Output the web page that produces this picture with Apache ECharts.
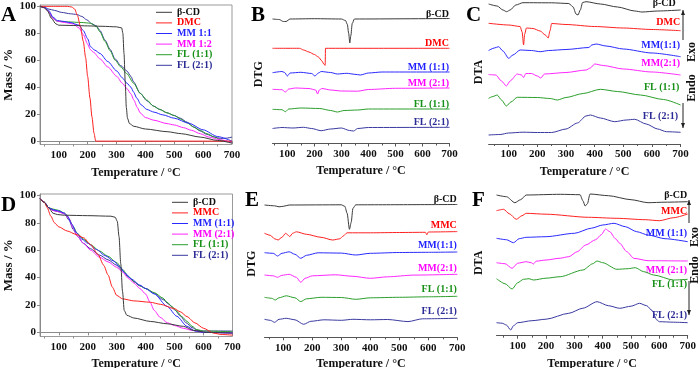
<!DOCTYPE html>
<html>
<head>
<meta charset="utf-8">
<script src="https://cdn.jsdelivr.net/npm/echarts@6/dist/echarts.min.js"></script>
<style>
html, body { margin: 0; padding: 0; background: #fff; }
#chart { width: 700px; height: 368px; }
</style>
</head>
<body>
<div id="chart"></div>
<script>
// tick values shared by every temperature axis
var tempMajor = [100, 200, 300, 400, 500, 600, 700];
var tempMinor = [50, 150, 250, 350, 450, 550, 650];
var massTicks = [0, 20, 40, 60, 80, 100];

// ---- A: TGA, mass % ----
var namesA = ['β-CD', 'DMC', 'MM 1:1', 'MM 1:2', 'FL (1:1)', 'FL (2:1)'];
var a_bcd = [[35,100],[50,99],[60,97],[75,91],[90,87],[100,86],[150,85.8],[200,85.5],[250,85.2],[300,84.8],[318,84],[322,80],[326,65],[330,45],[334,25],[338,17],[345,13],[360,11],[400,9],[475,7],[525,5.5],[590,3],[650,0.5],[700,-1.5]];
var a_dmc = [[35,100],[130,100],[145,99.5],[155,98],[165,93],[175,85],[185,74],[193,62],[200,48],[208,32],[215,18],[222,6],[228,0],[700,0]];
var a_mm11 = [[35,100],[50,99.5],[65,97],[80,92],[95,89.5],[110,89],[140,88],[170,86],[185,82],[200,76],[210,70],[225,67.5],[243,65],[270,59],[301,52],[320,47],[336,43],[350,40],[359,36.5],[370,32],[385,27],[405,23.5],[430,21.5],[460,19.5],[500,17],[550,13.3],[600,8.4],[650,3.4],[700,0]];
var a_mm12 = [[35,100],[50,99],[65,96],[80,91],[95,89],[120,88],[150,87],[170,84],[185,79],[200,72],[209,68],[220,66],[243,61],[270,55],[301,48],[320,43],[336,39],[350,35],[360,30.5],[372,25],[382,21],[400,17.5],[430,15.5],[475,13],[500,12],[532,10],[560,8],[590,5.5],[620,3],[660,1],[700,-1]];
var a_fl11 = [[35,100],[50,99],[65,96],[80,91],[95,89],[130,88.5],[180,88],[210,87.5],[230,85],[243,81],[260,74],[278,67],[295,60],[315,55],[336,50],[359,43],[382,35.5],[405,30.5],[428,26],[450,23.5],[475,21],[500,19],[521,16.5],[545,13.5],[567,10.5],[590,8],[613,5.5],[640,3],[665,0.5],[700,-1]];
var a_fl21 = [[35,100],[50,99.5],[65,98],[85,97],[110,95.5],[140,94.5],[162,94],[180,92.5],[197,90],[215,87],[230,85.5],[243,82],[260,75],[278,68],[295,61],[315,56],[336,52],[350,48],[359,44],[382,35.5],[405,30],[428,26],[450,23.5],[475,21],[500,19],[521,17],[545,14],[567,10.5],[590,7.5],[613,5],[640,3],[660,2],[680,2.2],[700,3]];

// ---- B: DTG (offset curves, arbitrary units) ----
var namesB = ['β-CD', 'DMC', 'MM (1:1)', 'MM (2:1)', 'FL (1:1)', 'FL (2:1)'];
var b_bcd = [[45,124.5],[70,124],[85,122],[95,122],[110,124.5],[200,124.8],[300,124.5],[315,123],[322,119],[327,110],[331,100.5],[335,108],[340,120],[348,124.5],[700,125]];
var b_dmc = [[45,95.2],[145,95.2],[160,93.5],[180,91.5],[200,89],[215,86.5],[228,82.5],[236,79],[240,78.2],[241,95.2],[700,95.2]];
var b_mm11 = [[45,70.8],[80,72],[90,71],[100,67.5],[110,70.5],[150,71.2],[190,70],[202,67.5],[215,70.5],[225,72],[260,71],[285,69.5],[320,70.2],[350,69.2],[370,68.5],[400,70.5],[450,71.5],[700,71.5]];
var b_mm21 = [[45,54.2],[80,53.8],[93,51.5],[105,54.5],[130,55.5],[180,55],[205,53.5],[212,49.5],[218,53.5],[228,55],[260,53.5],[300,52.5],[360,52.3],[400,54],[500,55.2],[700,55.5]];
var b_fl11 = [[45,34.2],[80,33.8],[93,31.8],[105,34.5],[150,35.5],[220,35],[260,33],[285,31.5],[310,33],[360,33.5],[400,34.5],[700,34.5]];
var b_fl21 = [[45,15],[80,16],[120,15.5],[160,16.2],[190,15],[225,12.8],[260,14.5],[300,15.5],[330,13],[345,12.5],[360,15],[400,16],[700,16.2]];
var labelLevelB = [128.8, 100.5, 75.8, 60.5, 39.5, 20.8];
var labelTempB = [700, 700, 700, 700, 700, 700];

// ---- C: DTA ----
var namesC = ['β-CD', 'DMC', 'MM(1:1)', 'MM(2:1)', 'FL (1:1)', 'FL (2:1)'];
var c_bcd = [[30,140],[60,138],[80,134],[93,132.3],[105,134],[125,139],[150,141.3],[250,141.2],[310,140.5],[325,137],[335,130],[342,129],[350,134],[358,141.5],[370,142.3],[420,140],[480,137],[540,133],[565,132],[620,133],[700,134]];
var c_dmc = [[30,120.7],[100,119],[140,117.5],[147,112],[152,99],[156,110],[162,116],[185,115.5],[210,113],[228,109],[238,106],[244,113],[250,120.5],[300,119.5],[400,117.5],[500,116],[600,114.5],[700,113.3]];
var c_mm11 = [[30,93.5],[50,96],[65,97.3],[80,93],[100,85.7],[115,89],[140,94],[180,93.5],[210,92.3],[240,93.5],[300,94.5],[380,96.5],[390,99],[405,100],[440,98],[500,95],[600,91],[700,87.3]];
var c_mm21 = [[30,69.5],[55,69],[75,63],[92,58],[105,63],[130,70],[145,69],[152,66.5],[160,70.5],[180,70.5],[200,68],[212,66],[225,70],[300,71.5],[370,74],[385,76],[400,80],[430,78.5],[500,75],[600,72],[700,69]];
var c_fl11 = [[30,45.7],[45,47.5],[60,49],[75,44],[92,38],[108,42],[130,46.7],[200,46.5],[245,45.5],[270,44],[300,46.5],[360,50.5],[420,54.7],[480,52.5],[560,49],[640,44.5],[700,39]];
var c_fl21 = [[30,9],[70,9.5],[100,11],[150,11.8],[200,11.5],[250,11.5],[300,15],[340,21],[370,28],[385,29],[420,26],[470,22.3],[510,24],[540,24.7],[580,20],[620,15],[650,12.3],[700,11.7]];
var labelLevelC = [140.5, 121.3, 99, 81, 56.3, 27.3];
var labelTempC = [685, 700, 700, 700, 697, 693];

// ---- D: TGA, mass % ----
var namesD = ['β-CD', 'MMC', 'MM (1:1)', 'MM (2:1)', 'FL (1:1)', 'FL (2:1)'];
var d_bcd = [[35,97.5],[50,95],[65,91],[80,87],[95,86],[120,85.5],[200,85.2],[280,84.8],[295,84],[302,81],[308,70],[314,50],[320,30],[326,16],[335,12.5],[359,10.5],[416,8],[474,6.3],[531,4.4],[565,1.5],[611,0],[700,-0.5]];
var d_mmc = [[35,97.5],[50,95],[60,91],[72,85],[85,80],[100,77],[129,74],[160,71.5],[186,69],[210,64],[235,57],[255,49],[270,42],[285,33],[300,27],[320,24.5],[359,23],[416,22],[451,20.5],[497,17.5],[520,15],[543,11.5],[570,7],[600,3],[634,-0.5],[660,-1.5],[700,-2]];
var d_mm11 = [[35,97.5],[50,95],[65,91],[80,89.5],[100,88.5],[120,87],[130,85],[145,79],[160,73],[180,68],[200,65],[230,60.5],[260,56],[290,52],[310,48],[330,43],[350,39],[380,34.5],[400,32],[430,28],[474,19],[508,11.7],[543,4.4],[570,1],[600,0],[700,-0.5]];
var d_mm21 = [[35,97.5],[50,95],[65,91],[80,89],[100,88],[120,86.5],[135,83],[150,76],[165,70],[185,65],[210,60],[240,55],[270,51.5],[300,47.5],[320,44],[340,39.5],[360,36],[380,32],[400,28],[415,22],[430,16],[450,11],[475,7],[500,5],[530,3],[560,1.5],[600,0],[700,-0.5]];
var d_fl11 = [[35,97.5],[50,95],[65,91],[80,90],[100,89],[120,87],[135,83],[150,77],[165,72],[185,68],[210,64],[240,59.5],[270,55.5],[300,51],[320,46],[340,41],[360,37],[380,34],[400,32],[430,29],[460,25],[474,22],[490,19],[508,15.3],[525,11.5],[543,8],[560,4.5],[577,2],[600,1],[700,0.5]];
var d_fl21 = [[35,97.5],[50,95],[65,91],[80,89],[100,88],[120,86.5],[135,82],[150,75],[165,70],[185,65],[210,61],[240,56.5],[270,53],[300,49],[320,45],[340,40.5],[360,37],[380,34],[400,32],[430,28.5],[460,24],[480,20.5],[500,16.5],[520,12],[540,7],[560,3.5],[580,1.5],[600,1],[700,1]];

// ---- E: DTG ----
var namesE = ['β-CD', 'MMC', 'MM(1:1)', 'MM(2:1)', 'FL (1:1)', 'FL (2:1)'];
var e_bcd = [[35,132.3],[70,131.5],[85,130.5],[100,131],[120,132.3],[300,132.5],[312,131],[320,124],[328,108],[334,115],[340,129],[350,132.5],[700,132.8]];
var e_mmc = [[35,104],[55,102],[70,98.5],[82,97.3],[95,100],[108,104],[115,102.5],[122,100.7],[132,104],[145,105.5],[180,103],[230,100],[270,97.3],[295,98.5],[305,101],[320,104.5],[400,104.5],[500,104.8],[590,105],[595,102.5],[600,105.3],[700,105.7]];
var e_mm11 = [[35,84.6],[65,84],[80,81.3],[95,84],[120,85.5],[140,83],[160,79],[180,82],[220,84.5],[300,84.2],[350,82.3],[400,84],[500,84.8],[600,85],[700,85.3]];
var e_mm21 = [[35,62.3],[65,61.5],[80,60],[95,62],[120,63],[145,60],[160,55],[175,59],[200,61.5],[280,62.5],[340,61],[400,59],[460,60.5],[550,62.2],[700,63]];
var e_fl11 = [[35,40],[60,39],[72,37.3],[85,39.5],[110,41.5],[140,39.5],[160,35.7],[180,38.5],[230,40],[300,39.8],[350,38],[400,39.5],[500,40],[600,40.5],[700,41]];
var e_fl21 = [[35,18],[55,17],[70,15],[85,18],[110,19],[140,17.5],[170,13],[195,16],[240,17.5],[300,17],[340,18],[400,17.5],[460,17.8],[530,15.7],[580,18.5],[700,19]];
var labelLevelE = [138, 112.3, 92.3, 69, 48, 26.3];
var labelTempE = [700, 700, 700, 700, 700, 700];

// ---- F: DTA ----
var namesF = ['β-CD', 'MMC', 'MM (1:1)', 'MM (2:1)', 'FL (1:1)', 'FL (2:1)'];
var f_bcd = [[25,140.7],[60,139],[90,133],[110,136],[130,140.7],[250,141.4],[320,141],[330,135],[338,129.7],[346,132],[355,141.7],[420,140],[500,136],[560,133],[620,133.5],[700,134]];
var f_mmc = [[25,125],[50,126.4],[70,122],[95,116.4],[115,120],[130,122.4],[200,121.5],[350,118.4],[450,117.4],[550,116],[600,115],[650,118],[700,121.7]];
var f_mm11 = [[25,97.4],[60,96],[85,93],[105,97],[130,98.4],[200,99],[300,102.4],[360,107.5],[400,110.7],[440,112.4],[480,109],[520,104],[560,100.7],[620,97],[700,94]];
var f_mm21 = [[25,73],[55,72],[80,67.4],[100,72.5],[130,74],[148,73],[155,71.7],[165,74.5],[200,75.7],[250,77.5],[280,79],[310,84],[340,90.7],[375,96],[395,101],[410,106.7],[425,104],[445,97],[460,92.4],[485,84],[510,77.4],[560,75],[700,74.7]];
var f_fl11 = [[25,57],[55,52],[80,46.7],[100,53],[120,56.4],[140,57],[155,55.7],[200,57.5],[250,59],[330,65.7],[365,72],[380,74.7],[400,73],[450,66.4],[490,67],[515,68],[545,64],[580,60.7],[650,55.7],[700,56.4]];
var f_fl21 = [[25,13],[45,12.5],[60,10.7],[75,5.7],[85,10],[100,13],[150,15],[200,16.5],[280,22.4],[330,27.5],[380,34],[420,30],[460,27.4],[500,29.5],[530,32.4],[555,30],[575,25],[590,16],[600,14],[650,13.5],[700,13]];
var labelLevelF = [140.7, 124, 102.4, 65.7, 51.7, 20.7];
var labelTempF = [700, 700, 700, 700, 700, 700];

// ---------------- layout & style ----------------
var FONT = '"Liberation Serif", "Times New Roman", serif';
var lineColors = ['#3a3a3a', '#ff2020', '#2a2aff', '#ff26ff', '#2b9e2b', '#3a3aa0'];
var textColors = ['#111111', '#ff0000', '#1f1fff', '#ff00ff', '#179017', '#2b2b95'];

var panels = [
  { grid: {left: 40, top: 5, width: 192, height: 139.5}, xmin: 35, ymin: -2.5, ymax: 101, tga: true, yname: 'Mass / %', nameGapX: 22, nameGapY: 24,
    names: namesA, curves: [a_bcd, a_dmc, a_mm11, a_mm12, a_fl11, a_fl21] },
  { grid: {left: 272.5, top: 5, width: 177, height: 138.5}, xmin: 45, ymin: 0, ymax: 138.5, yname: 'DTG', nameGapX: 21, nameGapY: 7.5,
    names: namesB, curves: [b_bcd, b_dmc, b_mm11, b_mm21, b_fl11, b_fl21], levels: labelLevelB, ltemps: labelTempB },
  { grid: {left: 488.6, top: 0, width: 192, height: 144}, xmin: 30, ymin: 0, ymax: 144, yname: 'DTA', nameGapX: 22, nameGapY: 3.5,
    names: namesC, curves: [c_bcd, c_dmc, c_mm11, c_mm21, c_fl11, c_fl21], levels: labelLevelC, ltemps: labelTempC },
  { grid: {left: 40, top: 194, width: 192.5, height: 142.5}, xmin: 35, ymin: -3, ymax: 101, tga: true, yname: 'Mass / %', nameGapX: 21, nameGapY: 24,
    names: namesD, curves: [d_bcd, d_mmc, d_mm11, d_mm21, d_fl11, d_fl21] },
  { grid: {left: 264.5, top: 190, width: 192.8, height: 147.3}, xmin: 35, ymin: 0, ymax: 147.3, yname: 'DTG', nameGapX: 20.5, nameGapY: 6.5,
    names: namesE, curves: [e_bcd, e_mmc, e_mm11, e_mm21, e_fl11, e_fl21], levels: labelLevelE, ltemps: labelTempE },
  { grid: {left: 496.5, top: 190, width: 191.2, height: 145.7}, xmin: 25, ymin: 0, ymax: 145.7, yname: 'DTA', nameGapX: 22, nameGapY: 11.5,
    names: namesF, curves: [f_bcd, f_mmc, f_mm11, f_mm21, f_fl11, f_fl21], levels: labelLevelF, ltemps: labelTempF }
];

var grids = [], xAxes = [], yAxes = [], series = [];
panels.forEach(function (p, gi) {
  var axisCol = p.tga ? '#8a8a8a' : '#555';
  var g = Object.assign({ outerBoundsMode: 'none', containLabel: false }, p.grid);
  if (p.tga) { g.show = true; g.borderColor = '#9a9a9a'; g.borderWidth = 1; }
  grids.push(g);

  xAxes.push({
    type: 'value', gridIndex: gi, min: p.xmin, max: 700, position: 'bottom',
    axisLine: { lineStyle: { color: axisCol, width: 1 } },
    axisTick: { customValues: tempMajor, length: 3, lineStyle: { color: axisCol } },
    axisLabel: { customValues: tempMajor, margin: 5, color: '#111', fontFamily: FONT, fontWeight: 'bold', fontSize: 11 },
    splitLine: { show: false },
    name: 'Temperature / °C', nameLocation: 'middle', nameGap: p.nameGapX,
    nameTextStyle: { color: '#111', fontFamily: FONT, fontWeight: 'bold', fontSize: 12 }
  });
  xAxes.push({
    type: 'value', gridIndex: gi, min: p.xmin, max: 700, position: 'bottom',
    axisLine: { show: false },
    axisTick: { customValues: tempMinor, length: 2, lineStyle: { color: axisCol } },
    axisLabel: { show: false }, splitLine: { show: false }
  });

  var nameStyle = { color: '#111', fontFamily: FONT, fontWeight: 'bold', fontSize: p.tga ? 13 : 12 };
  if (p.tga) {
    yAxes.push({
      type: 'value', gridIndex: gi, min: p.ymin, max: p.ymax,
      axisLine: { show: true, lineStyle: { color: axisCol } },
      axisTick: { show: true, customValues: massTicks, length: 3, lineStyle: { color: axisCol } },
      axisLabel: { customValues: massTicks, margin: 4, color: '#111', fontFamily: FONT, fontWeight: 'bold', fontSize: 11 },
      splitLine: { show: false },
      name: p.yname, nameLocation: 'middle', nameGap: p.nameGapY, nameTextStyle: nameStyle
    });
  } else {
    yAxes.push({
      type: 'value', gridIndex: gi, min: p.ymin, max: p.ymax,
      axisLine: { show: false }, axisTick: { show: false }, axisLabel: { show: false }, splitLine: { show: false },
      name: p.yname, nameLocation: 'middle', nameGap: p.nameGapY, nameTextStyle: nameStyle
    });
  }

  p.curves.forEach(function (data, k) {
    var s = {
      type: 'line', name: p.names[k], xAxisIndex: gi * 2, yAxisIndex: gi, data: data,
      symbol: 'none', smooth: 0.25, smoothMonotone: 'x',
      lineStyle: { width: 1, color: lineColors[k] }, itemStyle: { color: lineColors[k] },
      z: 10 - k
    };
    if (p.levels) {
      s.markPoint = {
        silent: true, symbol: 'circle', symbolSize: 1, itemStyle: { color: 'rgba(0,0,0,0)' },
        data: [{ coord: [p.ltemps[k], p.levels[k]] }],
        label: { show: true, position: 'left', distance: 0, formatter: p.names[k],
                 color: textColors[k], fontFamily: FONT, fontWeight: 'bold', fontSize: 10 }
      };
    }
    series.push(s);
  });
});

function legendFor(names, left, top) {
  return {
    orient: 'vertical', left: left, top: top, padding: 0,
    icon: 'rect', itemWidth: 16, itemHeight: 1, itemGap: 0.6, selectedMode: false,
    data: names.map(function (n, i) {
      return { name: n, textStyle: { color: textColors[i], fontFamily: FONT, fontWeight: 'bold', fontSize: 10, lineHeight: 10 } };
    }),
    textStyle: { fontFamily: FONT, fontWeight: 'bold', fontSize: 10, lineHeight: 10 }
  };
}

function letter(t, left, top) {
  return { text: t, left: left, top: top, padding: 0,
           textStyle: { fontFamily: FONT, fontWeight: 'bold', fontSize: 21, color: '#000' } };
}

// Exo / Endo direction marker beside a DTA panel
function exoEndo(x, tx, y0, y1, y2, y3, yExo, yEndo) {
  var st = { stroke: '#222', lineWidth: 1 };
  var ts = { fill: '#111', font: 'bold 12px ' + FONT, textAlign: 'center', textVerticalAlign: 'middle' };
  return [
    { type: 'line', shape: { x1: x, y1: y0, x2: x, y2: y1 }, style: st },
    { type: 'polygon', shape: { points: [[x - 2, y0 + 5], [x + 2, y0 + 5], [x, y0]] }, style: { fill: '#222' } },
    { type: 'line', shape: { x1: x, y1: y2, x2: x, y2: y3 }, style: st },
    { type: 'polygon', shape: { points: [[x - 2, y3 - 5], [x + 2, y3 - 5], [x, y3]] }, style: { fill: '#222' } },
    { type: 'text', x: tx, y: yExo, rotation: Math.PI / 2, style: Object.assign({ text: 'Exo' }, ts) },
    { type: 'text', x: tx, y: yEndo, rotation: Math.PI / 2, style: Object.assign({ text: 'Endo' }, ts) }
  ];
}

var chart = echarts.init(document.getElementById('chart'));
chart.setOption({
  animation: false,
  backgroundColor: '#fff',
  title: [letter('A', 1, 5), letter('B', 251, 5), letter('C', 466, 5),
          letter('D', 1, 195), letter('E', 245, 190), letter('F', 472, 190)],
  legend: [legendFor(namesA, 156, 7.3), legendFor(namesD, 172, 197.3)],
  grid: grids,
  xAxis: xAxes,
  yAxis: yAxes,
  series: series,
  graphic: exoEndo(683, 692, 10, 40, 103, 128, 52, 88).concat(exoEndo(689, 695, 200, 223, 281, 315, 237, 270))
});
</script>
</body>
</html>
